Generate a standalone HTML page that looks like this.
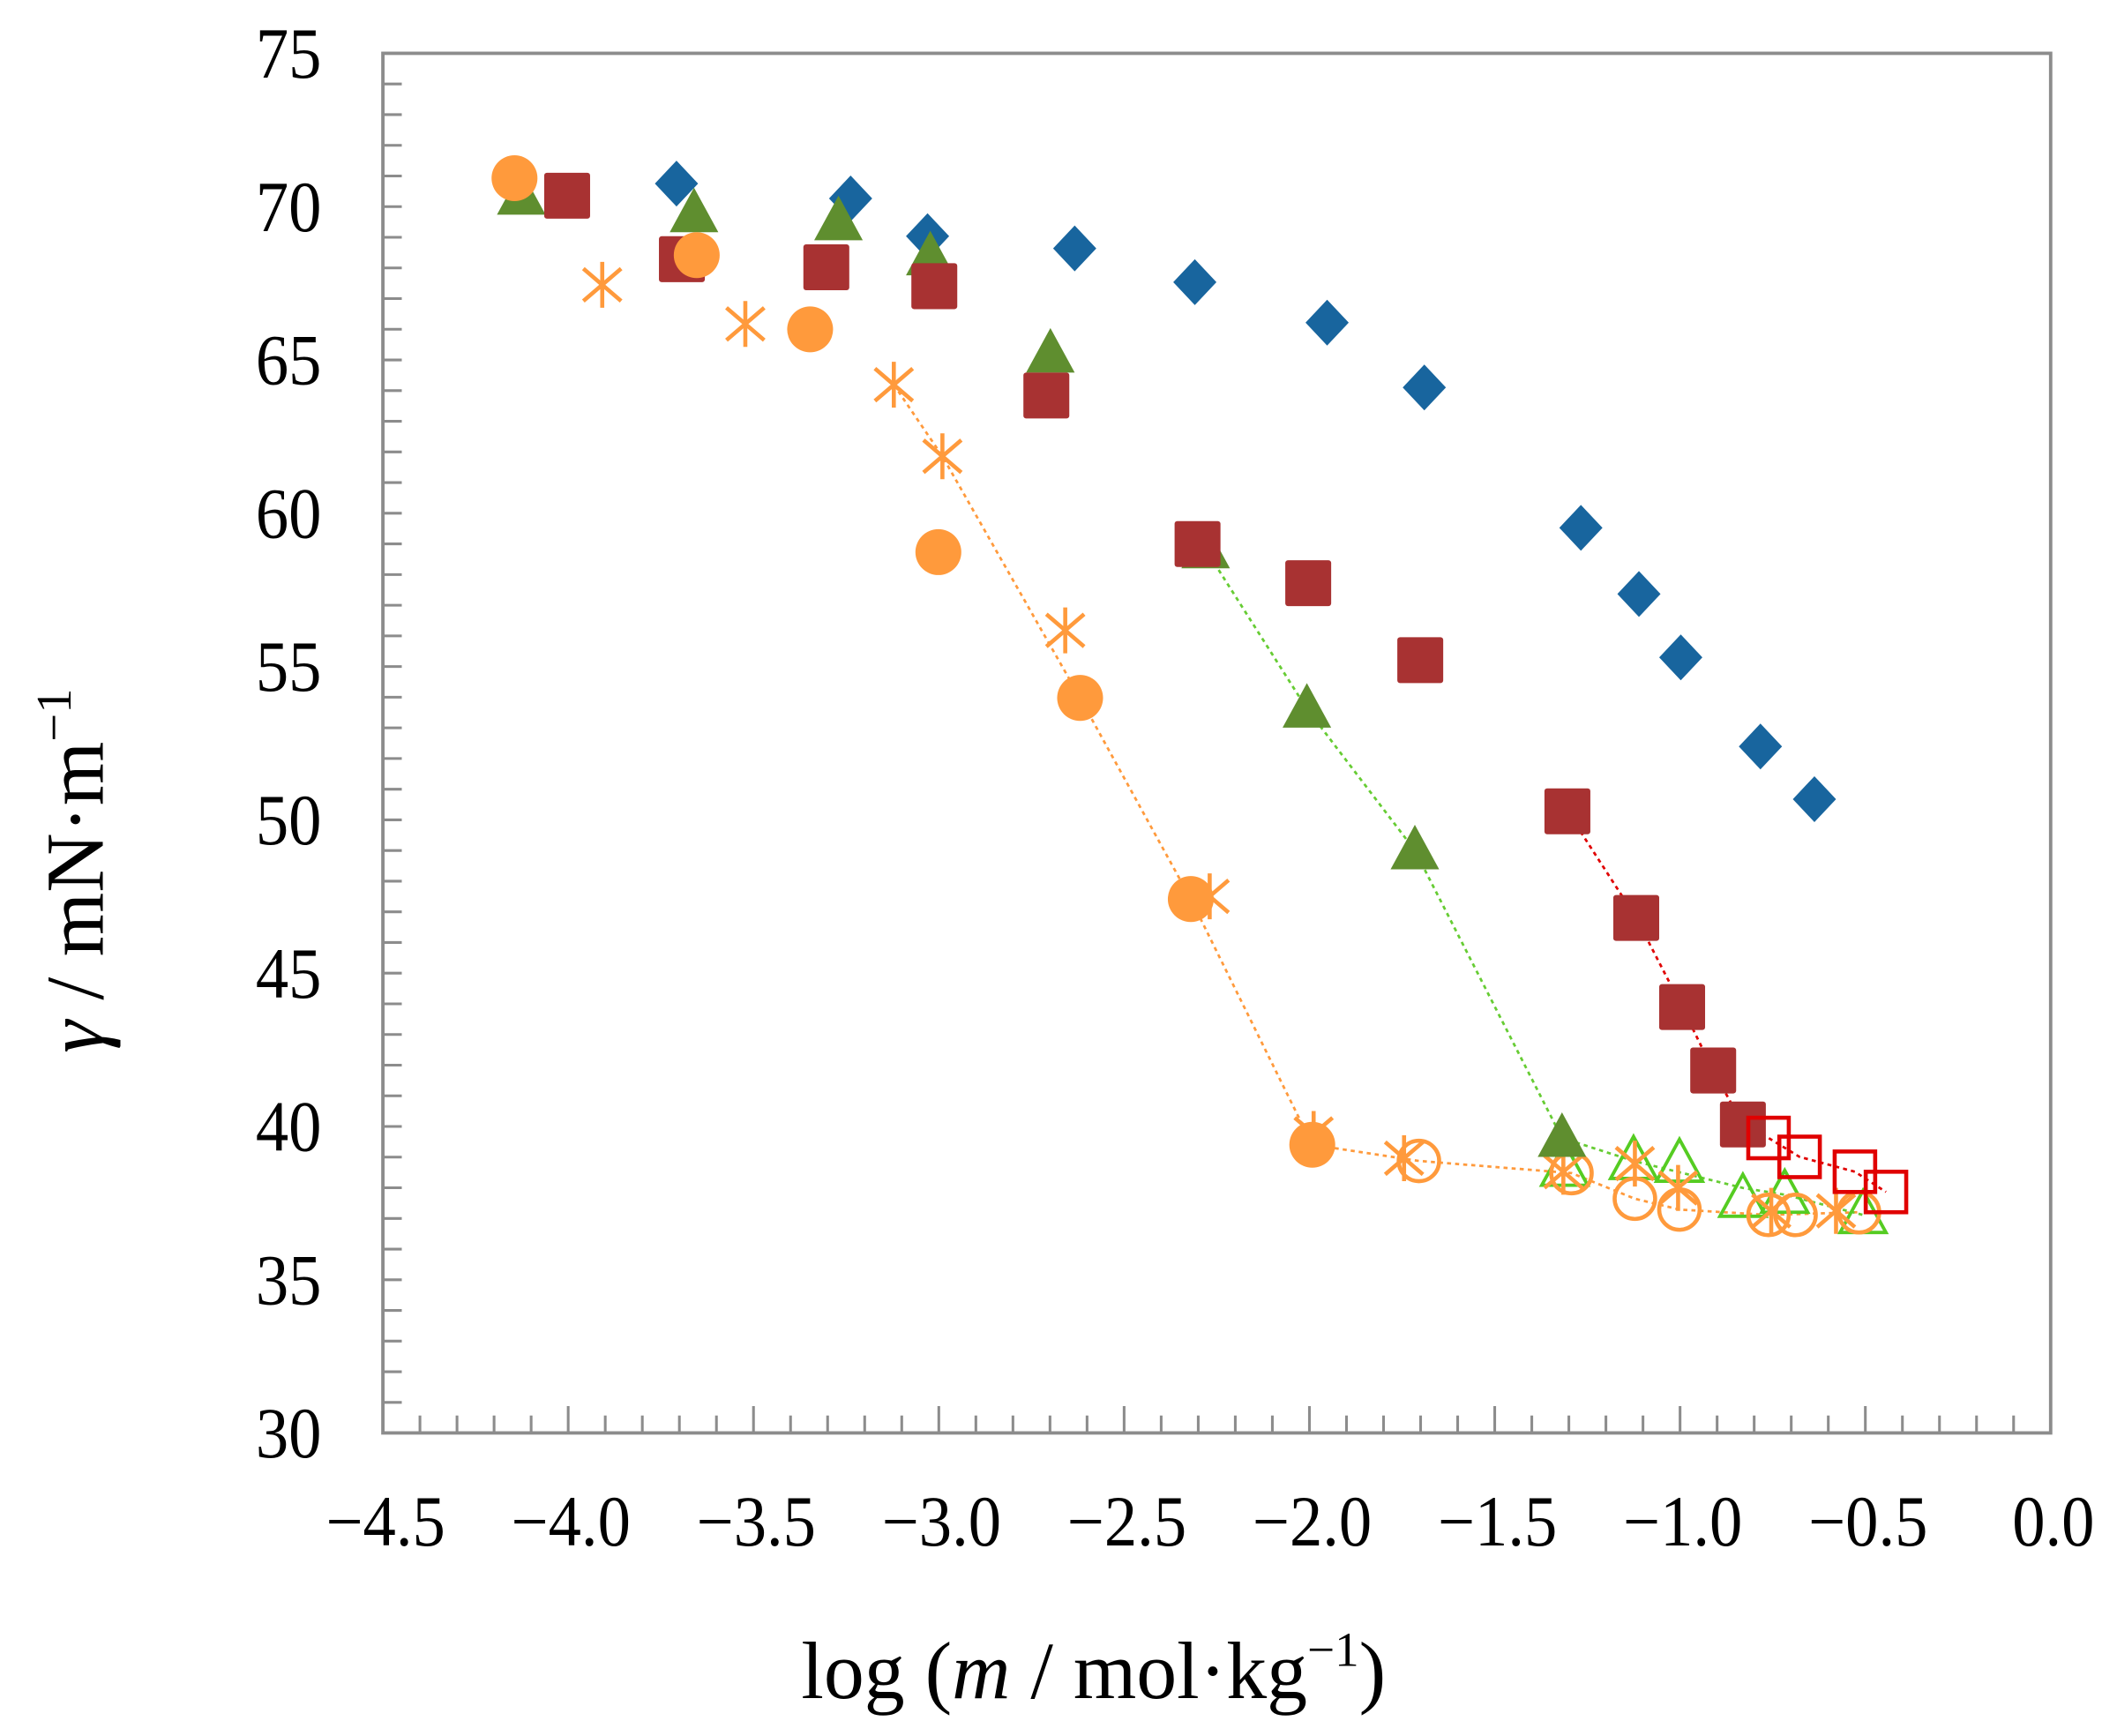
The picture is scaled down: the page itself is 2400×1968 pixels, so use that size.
<!DOCTYPE html>
<html><head><meta charset="utf-8"><style>
html,body{margin:0;padding:0;background:#fff}
svg{display:block}
text{font-family:"Liberation Serif",serif;fill:#000}
</style></head><body>
<svg width="2400" height="1968" viewBox="0 0 1568 1286" xmlns="http://www.w3.org/2000/svg">
<rect x="0" y="0" width="1568" height="1286" fill="#fff"/>
<g id="ticks" stroke="#8c8c8c" stroke-width="2"></g>
<rect x="283.5" y="39.5" width="1235.5" height="1022" fill="none" stroke="#8c8c8c" stroke-width="2.5"/>
<g font-size="53" text-anchor="end" id="ylab"></g>
<g font-size="53" text-anchor="middle" id="xlab"></g>
<text x="810" y="1258" font-size="60" text-anchor="middle">log (<tspan font-style="italic">m</tspan> / mol·kg<tspan dy="-24" font-size="36">−1</tspan><tspan dy="24">)</tspan></text>
<text transform="translate(76,645) rotate(-90)" font-size="61" text-anchor="middle"><tspan font-style="italic">γ</tspan> / mN·m<tspan dy="-24" font-size="37">−1</tspan></text>

<g fill="none" stroke-width="1.8" stroke-dasharray="3,3">
<polyline stroke="#ff9a3c" points="662,285 698,338 800,517 882,666 972,848 1051,860 1164,869 1211,888 1244,896 1310,900 1377,898"/>
<polyline stroke="#66cc33" points="893,407 968,525 1048,630 1157,843 1210,860 1291,880 1322,885 1380,900"/>
<polyline stroke="#e00000" points="1161,601 1212,680 1246,746 1269,793 1291,833 1310,843 1333,857 1374,868 1397,883"/>
</g>
<g id="pts"></g>
</svg>
<script>
var NS="http://www.w3.org/2000/svg";
function el(p,t,a){var e=document.createElementNS(NS,t);for(var k in a)e.setAttribute(k,a[k]);p.appendChild(e);return e;}
var X0=283.5,X1=1519,Y0=1061.6,YT=39.5;
function xp(v){return X0+(v+4.5)*(X1-X0)/4.5;}
function yp(g){return Y0-(g-30)*(Y0-YT)/45;}
var tk=document.getElementById('ticks');
for(var i=1;i<45;i++){var x=xp(-4.5+i*0.1);var L=(i%5==0)?20:13;el(tk,'line',{x1:x,x2:x,y1:Y0,y2:Y0-L});}
for(var i=1;i<45;i++){var y=yp(30+i);el(tk,'line',{x1:X0,x2:X0+14,y1:y,y2:y});}
var yl=document.getElementById('ylab');
for(var g=30;g<=75;g+=5){var y=yp(g)+18;var t=el(yl,'text',{x:0,y:0,transform:'translate(238,'+y+') scale(0.92,1)'});t.textContent=g;}
var xl=document.getElementById('xlab');
for(var i=0;i<=9;i++){var v=-4.5+i*0.5;var t=el(xl,'text',{x:0,y:0,transform:'translate('+(xp(v)+2)+',1145) scale(0.92,1)'});t.textContent=(v<0?'\u2212':'')+Math.abs(v).toFixed(1);}
var P=document.getElementById('pts');
function diamond(x,y){el(P,'polygon',{points:(x)+','+(y-17)+' '+(x+16)+','+y+' '+x+','+(y+17)+' '+(x-16)+','+y,fill:'#18659e'});}
function sq(x,y){el(P,'rect',{x:x-17,y:y-17,width:34,height:34,rx:2,fill:'#a83232'});}
function tri(x,y){el(P,'polygon',{points:x+','+(y-19)+' '+(x+18)+','+(y+14)+' '+(x-18)+','+(y+14),fill:'#5f8e2f'});}
function circ(x,y){el(P,'ellipse',{cx:x,cy:y,rx:17,ry:17,fill:'#ff9a3c'});}
function ast(x,y){var g=el(P,'g',{stroke:'#ff9a3c','stroke-width':3});el(g,'line',{x1:x,y1:y-17,x2:x,y2:y+17});el(g,'line',{x1:x-14,y1:y-12,x2:x+14,y2:y+12});el(g,'line',{x1:x-14,y1:y+12,x2:x+14,y2:y-12});}
function ocirc(x,y){el(P,'circle',{cx:x,cy:y,r:15,fill:'none',stroke:'#ff9a3c','stroke-width':3});}
function otri(x,y){el(P,'polygon',{points:x+','+(y-18)+' '+(x+17)+','+(y+13)+' '+(x-17)+','+(y+13),fill:'none',stroke:'#55cc22','stroke-width':2.5});}
function osq(x,y){el(P,'rect',{x:x-15,y:y-15,width:30,height:30,fill:'none',stroke:'#e00000','stroke-width':3});}
[[1159,865],[1210,860],[1244,862],[1291,888],[1322,885],[1380,900]].forEach(function(p){otri(p[0],p[1]);});
[[1051,860],[1164,869],[1211,888],[1244,896],[1310,900],[1330,900],[1377,898]].forEach(function(p){ocirc(p[0],p[1]);});
[[1040,858],[1158,868],[1211,862],[1243,880],[1312,897],[1360,897]].forEach(function(p){ast(p[0],p[1]);});
[[501,136],[630,147],[687,175],[796,184],[885,209],[983,239],[1055,287],[1171,391],[1214,440],[1245,487],[1304,553],[1344,592]].forEach(function(p){diamond(p[0],p[1]);});
[[386,145],[514,158],[621,164],[689,190],[778,262],[893,407],[968,525],[1048,630],[1157,843]].forEach(function(p){tri(p[0],p[1]);});
[[420,145],[505,192],[612,198],[692,212],[775,293],[887,403],[969,432],[1052,489],[1161,601],[1212,680],[1246,746],[1269,793],[1291,833]].forEach(function(p){sq(p[0],p[1]);});
[[381,132],[516,189],[600,244],[695,409],[800,517],[882,666],[972,848]].forEach(function(p){circ(p[0],p[1]);});
[[446,211],[552,240],[662,285],[698,338],[789,467],[896,664],[973,840]].forEach(function(p){ast(p[0],p[1]);});
[[1310,843],[1333,857],[1374,868],[1397,883]].forEach(function(p){osq(p[0],p[1]);});
</script>
</body></html>
